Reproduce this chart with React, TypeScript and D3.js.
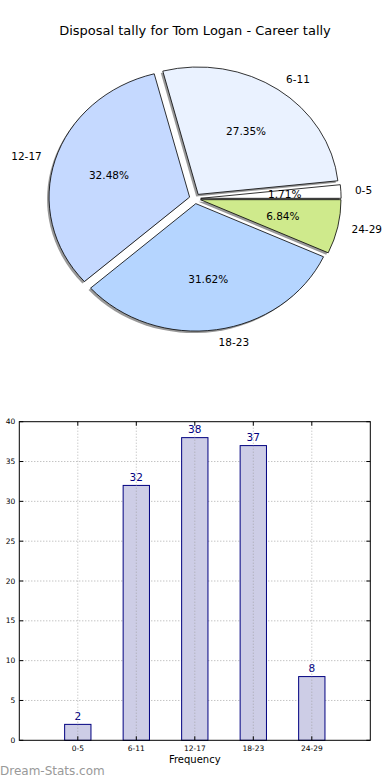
import * as d3 from "d3";

const categories = ["0-5", "6-11", "12-17", "18-23", "24-29"];
const tally = [2, 32, 38, 37, 8];
const sliceColors = ["#ffffff", "#eaf2ff", "#c5d9ff", "#b5d5ff", "#cfea8c"];
const yTicks = [0, 5, 10, 15, 20, 25, 30, 35, 40];

const W = 390;
const H = 780;

// pie (matplotlib-style: start at 3 o'clock, counter-clockwise, exploded)
const cx = 195;
const cy = 198.6;
const rx = 140.5;
const ry = 127.4;
const explode = 0.04;

// bar panel
const plot = { left: 19.3, right: 370.3, top: 421.7, bottom: 740.3 };

function PieChart() {
  const total = d3.sum(tally);
  const arcs = d3
    .pie<number>()
    .sort(null)
    .startAngle(Math.PI / 2)
    .endAngle(Math.PI / 2 - 2 * Math.PI)(tally);
  const arcGen = d3.arc<d3.PieArcDatum<number>>().innerRadius(0).outerRadius(1);

  const pos = (a: number, r: number) => [
    Math.sin(a) * r * rx,
    -Math.cos(a) * r * ry,
  ];

  return (
    <g>
      {arcs.map((a, i) => {
        const mid = (a.startAngle + a.endAngle) / 2;
        const [ox, oy] = pos(mid, explode);
        return (
          <path
            key={"s" + i}
            d={arcGen(a) ?? ""}
            transform={`translate(${cx + ox - 2},${cy + oy + 2}) scale(${rx},${ry})`}
            fill="#333"
            fillOpacity={0.5}
            stroke="none"
          />
        );
      })}
      {arcs.map((a, i) => {
        const mid = (a.startAngle + a.endAngle) / 2;
        const [ox, oy] = pos(mid, explode);
        return (
          <path
            key={"p" + i}
            d={arcGen(a) ?? ""}
            transform={`translate(${cx + ox},${cy + oy}) scale(${rx},${ry})`}
            fill={sliceColors[i]}
            stroke="#000"
            strokeWidth={0.8}
            vectorEffect="non-scaling-stroke"
          />
        );
      })}
      {arcs.map((a, i) => {
        const mid = (a.startAngle + a.endAngle) / 2;
        const [lx, ly] = pos(mid, explode + 1.1);
        const [px, py] = pos(mid, explode + 0.6);
        return (
          <g key={"t" + i} fontSize={10.5} fill="#000">
            <text
              x={cx + lx}
              y={cy + ly}
              dy="0.35em"
              textAnchor={lx > 0 ? "start" : "end"}
            >
              {categories[i]}
            </text>
            <text x={cx + px} y={cy + py} dy="0.35em" textAnchor="middle">
              {((tally[i] / total) * 100).toFixed(2)}%
            </text>
          </g>
        );
      })}
    </g>
  );
}

function BarChart() {
  const x = d3.scaleLinear().domain([-1, categories.length]).range([plot.left, plot.right]);
  const y = d3.scaleLinear().domain([0, 40]).range([plot.bottom, plot.top]);
  const barW = 0.45;

  return (
    <g>
      {/* grid */}
      {yTicks.slice(1, -1).map((t) => (
        <line
          key={"gy" + t}
          x1={plot.left}
          x2={plot.right}
          y1={y(t)}
          y2={y(t)}
          stroke="#aaa"
          strokeDasharray="1,2"
        />
      ))}
      {/* bars */}
      {tally.map((v, i) => (
        <g key={"b" + i}>
          <rect
            x={x(i - barW / 2)}
            y={y(v)}
            width={x(barW) - x(0)}
            height={y(0) - y(v)}
            fill="#cdcde6"
            stroke="#000080"
            strokeWidth={1}
          />
          <text
            x={x(i)}
            y={y(v) - 4.5}
            textAnchor="middle"
            fontSize={10.5}
            fill="#000080"
          >
            {v}
          </text>
        </g>
      ))}
      {/* vertical grid, drawn over the bars */}
      {categories.map((c, i) => (
        <line
          key={"gx" + c}
          x1={x(i)}
          x2={x(i)}
          y1={plot.top}
          y2={plot.bottom}
          stroke="#999"
          strokeOpacity={0.7}
          strokeDasharray="1,2"
        />
      ))}
      {/* frame */}
      <rect
        x={plot.left}
        y={plot.top}
        width={plot.right - plot.left}
        height={plot.bottom - plot.top}
        fill="none"
        stroke="#000"
        strokeWidth={1}
      />
      {/* ticks */}
      {yTicks.map((t) => (
        <g key={"ty" + t}>
          <line x1={plot.left} x2={plot.left + 4} y1={y(t)} y2={y(t)} stroke="#000" />
          <line x1={plot.right} x2={plot.right - 4} y1={y(t)} y2={y(t)} stroke="#000" />
          <text x={plot.left - 4} y={y(t)} dy="0.35em" textAnchor="end" fontSize={7.5} fill="#000">
            {t}
          </text>
        </g>
      ))}
      {categories.map((c, i) => (
        <g key={"tx" + c}>
          <line x1={x(i)} x2={x(i)} y1={plot.bottom} y2={plot.bottom - 4} stroke="#000" />
          <line x1={x(i)} x2={x(i)} y1={plot.top} y2={plot.top + 4} stroke="#000" />
          <text x={x(i)} y={plot.bottom + 11} textAnchor="middle" fontSize={7.5} fill="#000">
            {c}
          </text>
        </g>
      ))}
      <text x={(plot.left + plot.right) / 2} y={763} textAnchor="middle" fontSize={10} fill="#000">
        Frequency
      </text>
    </g>
  );
}

export default function App() {
  return (
    <svg
      width={W}
      height={H}
      style={{ position: "absolute", left: 0, top: 0, background: "#fff" }}
      fontFamily="DejaVu Sans, sans-serif"
    >
      <rect width={W} height={H} fill="#fff" />
      <text x={195} y={30} dy="0.35em" textAnchor="middle" fontSize={13} fill="#000">
        Disposal tally for Tom Logan - Career tally
      </text>
      <PieChart />
      <BarChart />
      <text x={0} y={775} fontSize={12} fill="#999">
        Dream-Stats.com
      </text>
    </svg>
  );
}
